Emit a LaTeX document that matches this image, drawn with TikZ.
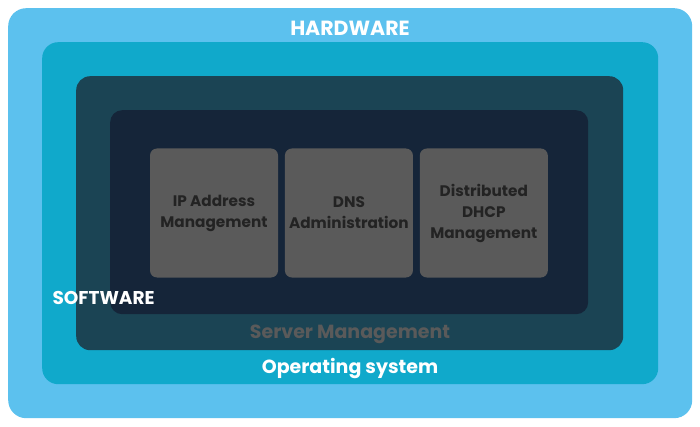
\documentclass[tikz,border=0pt]{standalone}
\usepackage{fontspec}
\setmainfont{Poppins}
\usetikzlibrary{positioning}
\definecolor{hwblue}{HTML}{5CC1EE}
\definecolor{osblue}{HTML}{10A9CB}
\definecolor{smteal}{HTML}{1B4454}
\definecolor{swnavy}{HTML}{152539}
\definecolor{modgray}{HTML}{5A5A5A}
\definecolor{modtext}{HTML}{232323}
\tikzset{
  layer/.style={rounded corners=#1, inner sep=0pt, anchor=north west},
  module/.style={fill=modgray, rounded corners=7pt, minimum width=128pt, minimum height=129pt,
    inner sep=0pt, text=modtext, align=center, font=\fontsize{15.3}{21}\selectfont\bfseries},
  tag/.style={text=white, font=\fontsize{19}{22}\selectfont\bfseries}
}
\begin{document}
\begin{tikzpicture}[x=1pt,y=-1pt]
    \useasboundingbox (0,0) rectangle (700,427);
    % nested layers
    \node[layer=18pt, fill=hwblue, minimum width=684pt, minimum height=410pt] (hw) at (8,8) {};
    \node[layer=16pt, fill=osblue, minimum width=616pt, minimum height=342pt] (os) at (42,42) {};
    \node[layer=14pt, fill=smteal, minimum width=547pt, minimum height=274pt] (sm) at (76,76) {};
    \node[layer=12pt, fill=swnavy, minimum width=478pt, minimum height=204pt] (sw) at (110,110) {};
    % modules
    \node[module] (ipam) at (214,213) {IP Address\\Management};
    \node[module, right=6.5pt of ipam] (dns) {DNS\\Administration};
    \node[module, right=6.5pt of dns] (dhcp) {Distributed\\DHCP\\Management};
    % labels
    \node[tag, font=\fontsize{20.5}{22}\selectfont\bfseries] (hwlabel) at (350,28) {HARDWARE};
    \node[tag, anchor=west, font=\fontsize{18.5}{22}\selectfont\bfseries] (swlabel) at (49,298) {SOFTWARE};
    \node[tag, text=modgray] (smlabel) at (350,334) {Server Management};
    \node[tag] (oslabel) at (350,369) {Operating system};
\end{tikzpicture}
\end{document}
